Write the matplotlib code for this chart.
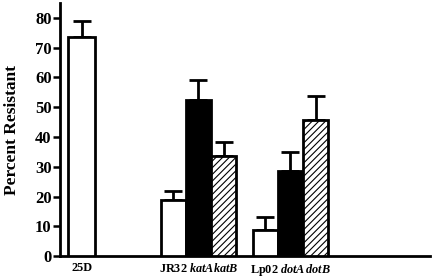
import matplotlib.pyplot as plt
import numpy as np

plt.rcParams['font.family'] = 'Liberation Serif'
plt.rcParams['font.weight'] = 'bold'
plt.rcParams['mathtext.fontset'] = 'custom'
plt.rcParams['mathtext.it'] = 'Liberation Serif:italic:bold'
plt.rcParams['mathtext.rm'] = 'Liberation Serif:bold'
plt.rcParams['hatch.linewidth'] = 0.8

# data
groups = ['25D', r'JR32 $\mathit{katAkatB}$', r'Lp02 $\mathit{dotA\,dotB}$']
group_x = [0.89, 5.61, 9.34]
white_vals = [73.5, 18.8, 8.7]
white_err = [5.5, 3.0, 4.4]
black_vals = [52.4, 28.6]
black_err = [6.8, 6.4]
hatch_vals = [33.6, 45.7]
hatch_err = [4.8, 8.1]

fig = plt.figure(figsize=(4.34, 2.78), dpi=100)
ax = fig.add_axes([0.138, 0.079, 0.853, 0.91])

w = 1.02
lw = 2.0
err_kw = dict(fmt='none', ecolor='black', elinewidth=2.0, capsize=6.5, capthick=2.0)

# white bars: 25D alone, mutants offset left
wx = [group_x[0], group_x[1] - w, group_x[2] - w]
ax.bar(wx, white_vals, width=[1.1, w, w], color='white', edgecolor='black', linewidth=lw, zorder=3)
ax.errorbar(wx, white_vals, yerr=[np.zeros(3), white_err], zorder=2, **err_kw)

bx = [group_x[1], group_x[2]]
ax.bar(bx, black_vals, width=w, color='black', edgecolor='black', linewidth=lw, zorder=3)
ax.errorbar(bx, black_vals, yerr=[np.zeros(2), black_err], zorder=2, **err_kw)

hx = [group_x[1] + w, group_x[2] + w]
ax.bar(hx, hatch_vals, width=w, color='white', edgecolor='black', hatch='/////', linewidth=lw, zorder=3)
ax.errorbar(hx, hatch_vals, yerr=[np.zeros(2), hatch_err], zorder=2, **err_kw)

ax.set_xlim(0, 15)
ax.set_ylim(0, 85)
ax.set_yticks(np.arange(0, 81, 10))
ax.tick_params(axis='y', labelsize=12, width=1.8, length=5, pad=1)
ax.set_xticks(group_x)
ax.set_xticklabels(groups, fontsize=8.8, fontweight='bold')
ax.tick_params(axis='x', length=0, pad=4)

for s in ['top', 'right']:
    ax.spines[s].set_visible(False)
ax.spines['left'].set_linewidth(2)
ax.spines['bottom'].set_linewidth(2)

ax.set_ylabel('Percent Resistant', fontsize=12.5, fontweight='bold', labelpad=11)

fig.savefig('out.png', dpi=100)
